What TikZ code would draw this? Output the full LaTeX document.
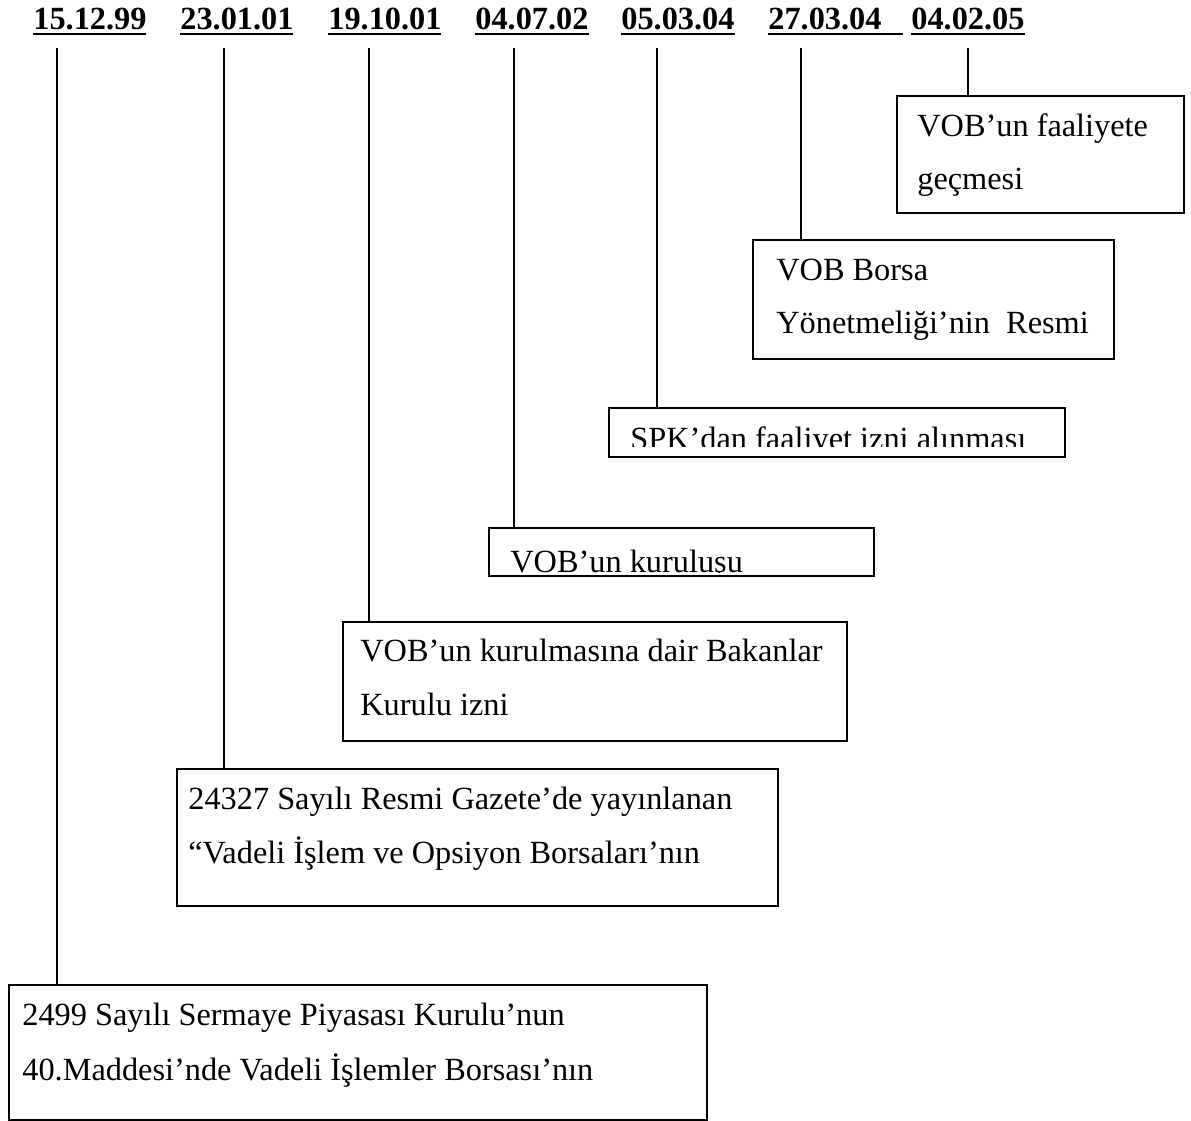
\documentclass[tikz,border=0pt]{standalone}
\usepackage{fontspec}
\setmainfont{Liberation Serif}
\usetikzlibrary{positioning}

% underline with a thicker, lower rule than \underline
\newcommand{\dline}[2][0pt]{\setbox0\hbox{#2\hspace{#1}}\rlap{\rule[-2.6pt]{\wd0}{1.1pt}}\box0}

\begin{document}
\begin{tikzpicture}[x=0.02cm, y=-0.02cm,
    date/.style={font=\fontsize{18.4}{22}\selectfont\bfseries, anchor=base west, inner sep=0pt},
    box/.style={draw, line width=1.1pt, anchor=north west, inner sep=0pt},
    txt/.style={font=\fontsize{18.4}{22}\selectfont, anchor=base west, inner sep=0pt},
    tick/.style={line width=0.8pt}
]
\useasboundingbox (0,0) rectangle (1191,1121);

% dates
\node[date] (d1) at (33,30) {\dline{15.12.99}};
\node[date] (d2) at (180,30) {\dline{23.01.01}};
\node[date] (d3) at (328,30) {\dline{19.10.01}};
\node[date] (d4) at (475,30) {\dline{04.07.02}};
\node[date] (d5) at (621,30) {\dline{05.03.04}};
\node[date] (d6) at (768,30) {\dline[12pt]{27.03.04}};
\node[date] (d7) at (911,30) {\dline{04.02.05}};

\coordinate (t1) at (57,48);
\coordinate (t2) at (224,48);
\coordinate (t3) at (369,48);
\coordinate (t4) at (514,48);
\coordinate (t5) at (657,48);
\coordinate (t6) at (801,48);
\coordinate (t7) at (968,48);

% boxes
\node[box, minimum width=5.74cm, minimum height=2.34cm] (b1) at (896,95) {};
\node[box, minimum width=7.22cm, minimum height=2.38cm] (b2) at (752,239) {};
\node[box, minimum width=9.12cm, minimum height=0.98cm] (b3) at (608,407) {};
\node[box, minimum width=7.70cm, minimum height=0.96cm] (b4) at (488,527) {};
\node[box, minimum width=10.08cm, minimum height=2.38cm] (b5) at (342,621) {};
\node[box, minimum width=12.02cm, minimum height=2.74cm] (b6) at (176,768) {};
\node[box, minimum width=13.96cm, minimum height=2.70cm] (b7) at (8,984) {};

\node[txt] (b1a) at ([shift={(21,42)}]b1.north west) {VOB’un faaliyete};
\node[txt] (b1b) at ([shift={(21,95)}]b1.north west) {geçmesi};
\node[txt] (b2a) at ([shift={(24,42)}]b2.north west) {VOB Borsa};
\node[txt] (b2b) at ([shift={(24,95)}]b2.north west) {Yönetmeliği’nin\ \ Resmi};
\begin{scope}
  \clip (b3.north west) rectangle ([shift={(0,-11)}]b3.south east);
  \node[txt] (b3a) at ([shift={(22,43)}]b3.north west) {SPK’dan faaliyet izni alınması};
\end{scope}
\begin{scope}
  \clip (b4.north west) rectangle ([shift={(0,-4)}]b4.south east);
  \node[txt] (b4a) at ([shift={(22,46)}]b4.north west) {VOB’un kuruluşu};
\end{scope}
\node[txt] (b5a) at ([shift={(18,41)}]b5.north west) {VOB’un kurulmasına dair Bakanlar};
\node[txt] (b5b) at ([shift={(18,95)}]b5.north west) {Kurulu izni};
\node[txt] (b6a) at ([shift={(12,42)}]b6.north west) {24327 Sayılı Resmi Gazete’de yayınlanan};
\node[txt] (b6b) at ([shift={(12,96)}]b6.north west) {“Vadeli İşlem ve Opsiyon Borsaları’nın};
\node[txt] (b7a) at ([shift={(14,41)}]b7.north west) {2499 Sayılı Sermaye Piyasası Kurulu’nun};
\node[txt] (b7b) at ([shift={(14,96)}]b7.north west) {40.Maddesi’nde Vadeli İşlemler Borsası’nın};

% connectors
\draw[tick] (t1) -- (t1 |- b7.north);
\draw[tick] (t2) -- (t2 |- b6.north);
\draw[tick] (t3) -- (t3 |- b5.north);
\draw[tick] (t4) -- (t4 |- b4.north);
\draw[tick] (t5) -- (t5 |- b3.north);
\draw[tick] (t6) -- (t6 |- b2.north);
\draw[tick] (t7) -- (t7 |- b1.north);
\end{tikzpicture}
\end{document}
